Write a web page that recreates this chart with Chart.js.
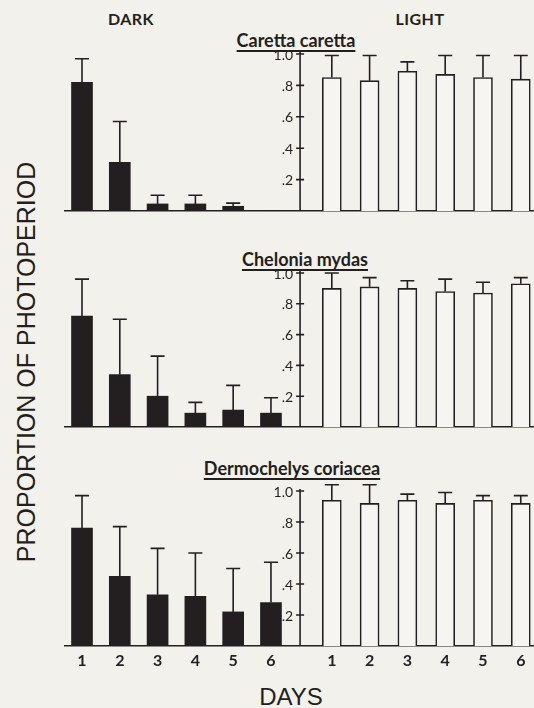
<!DOCTYPE html>
<html>
<head>
<meta charset="utf-8">
<script src="https://cdn.jsdelivr.net/npm/chart.js@4/dist/chart.umd.min.js"></script>
<style>
  html, body { margin: 0; padding: 0; }
  body { width: 534px; height: 708px; background: #f3f1ec; position: relative; overflow: hidden; font-family: Lato, "DejaVu Sans", sans-serif; color: #231f20; }
  .panel { position: absolute; left: 0; width: 534px; }
  .txt { position: absolute; white-space: nowrap; transform: translate(-50%, -50%); }
  .head { font-weight: bold; font-size: 16px; letter-spacing: 0.5px; }
  .species { font-weight: bold; font-size: 18px; text-decoration: underline; text-decoration-thickness: 2px; text-underline-offset: 3px; }
  .axis { font-family: "Liberation Sans", Arial, sans-serif; font-size: 24px; }
</style>
</head>
<body>
<div class="txt head" style="left:131px; top:18px;">DARK</div>
<div class="txt head" style="left:420px; top:18px;">LIGHT</div>
<div class="txt species" style="left:296px; top:40px;">Caretta caretta</div>
<div class="txt species" style="left:305px; top:259px;">Chelonia mydas</div>
<div class="txt species" style="left:292px; top:468px;">Dermochelys coriacea</div>
<div class="txt axis" style="left:26px; top:362px; font-size:25px; transform: translate(-50%, -50%) rotate(-90deg);">PROPORTION OF PHOTOPERIOD</div>
<div class="txt axis" style="left:291px; top:697px;">DAYS</div>

<div class="panel" style="top:24px; height:191px;"><canvas id="c1"></canvas></div>
<div class="panel" style="top:243px; height:188px;"><canvas id="c2"></canvas></div>
<div class="panel" style="top:461px; height:215px;"><canvas id="c3"></canvas></div>

<script>
const days = [1, 2, 3, 4, 5, 6];
const yTicks = [0, 0.2, 0.4, 0.6, 0.8, 1.0];
const yTickLabels = ['', '.2', '.4', '.6', '.8', '1.0'];

// Caretta caretta
const carettaDark = [0.82, 0.31, 0.045, 0.045, 0.03, 0];
const carettaDarkSd = [0.15, 0.26, 0.055, 0.055, 0.02, 0];
const carettaLight = [0.85, 0.83, 0.89, 0.87, 0.85, 0.84];
const carettaLightSd = [0.14, 0.16, 0.06, 0.12, 0.14, 0.15];

// Chelonia mydas
const cheloniaDark = [0.72, 0.34, 0.20, 0.09, 0.11, 0.09];
const cheloniaDarkSd = [0.24, 0.36, 0.26, 0.07, 0.16, 0.10];
const cheloniaLight = [0.90, 0.91, 0.90, 0.88, 0.87, 0.93];
const cheloniaLightSd = [0.10, 0.06, 0.05, 0.08, 0.07, 0.04];

// Dermochelys coriacea
const dermoDark = [0.76, 0.45, 0.33, 0.32, 0.22, 0.28];
const dermoDarkSd = [0.21, 0.32, 0.30, 0.28, 0.28, 0.26];
const dermoLight = [0.94, 0.92, 0.94, 0.92, 0.94, 0.92];
const dermoLightSd = [0.10, 0.12, 0.04, 0.07, 0.03, 0.05];

const INK = '#231f20';
const LIGHT_SHIFT = 6.61;   // light days sit right of the y axis
const AXIS_AT = 6.77;       // where the y axis crosses the x axis

// error bars (mean + sd), plus the middle y axis: line, crossing ticks, labels
const errorBars = {
  id: 'errorBars',
  afterDatasetsDraw(chart) {
    const ctx = chart.ctx, y = chart.scales.y, x = chart.scales.x;
    ctx.save();
    ctx.strokeStyle = INK;
    ctx.lineWidth = 1.6;
    chart.data.datasets.forEach((ds, d) => {
      chart.getDatasetMeta(d).data.forEach((bar, i) => {
        const sd = ds.sd[i];
        if (!sd) return;
        const top = y.getPixelForValue(ds.data[i].y + sd);
        ctx.beginPath();
        ctx.moveTo(bar.x, bar.y);
        ctx.lineTo(bar.x, top);
        ctx.moveTo(bar.x - 7, top);
        ctx.lineTo(bar.x + 7, top);
        ctx.stroke();
      });
    });
    const ax = x.getPixelForValue(AXIS_AT);
    ctx.beginPath();
    ctx.moveTo(ax, y.getPixelForValue(0));
    ctx.lineTo(ax, y.getPixelForValue(1) - 2);
    yTicks.slice(1).forEach(v => {
      const py = y.getPixelForValue(v);
      ctx.moveTo(ax - 4, py);
      ctx.lineTo(ax + 4, py);
    });
    ctx.stroke();
    ctx.fillStyle = INK;
    ctx.font = '14px Lato';
    ctx.textAlign = 'right';
    ctx.textBaseline = 'middle';
    yTicks.forEach((v, i) => ctx.fillText(yTickLabels[i], ax - 7, y.getPixelForValue(v) + 1));
    ctx.restore();
  }
};

function makePanel(id, dark, darkSd, light, lightSd, showDays) {
  const xPos = days.map(d => d).concat(days.map(d => d + LIGHT_SHIFT));
  return new Chart(document.getElementById(id), {
    type: 'bar',
    data: {
      datasets: [{
        label: 'Dark',
        data: dark.map((v, i) => ({ x: days[i], y: v })),
        sd: darkSd,
        backgroundColor: INK,
        borderWidth: 0,
        barThickness: 21,
        grouped: false
      }, {
        label: 'Light',
        data: light.map((v, i) => ({ x: days[i] + LIGHT_SHIFT, y: v })),
        sd: lightSd,
        backgroundColor: '#f7f5f1',
        borderColor: INK,
        borderWidth: 1.6,
        barThickness: 19,
        grouped: false
      }]
    },
    options: {
      responsive: true,
      maintainAspectRatio: false,
      animation: false,
      layout: { padding: { left: 65, right: 0, top: 30, bottom: 4 } },
      plugins: { legend: { display: false }, tooltip: { enabled: false } },
      scales: {
        x: {
          type: 'linear',
          offset: false,
          min: 0.55,
          max: 12.96,
          grid: { display: false, drawTicks: false },
          border: { display: true, color: INK, width: 1.6 },
          afterBuildTicks: s => { s.ticks = xPos.map(v => ({ value: v })); },
          afterFit: s => { s.height = showDays ? 26 : 0; },
          ticks: {
            display: showDays,
            autoSkip: false,
            maxRotation: 0,
            padding: 5,
            color: INK,
            font: { family: 'Lato', size: 16, weight: 'bold' },
            callback: v => String(Math.round(v > AXIS_AT ? v - LIGHT_SHIFT : v))
          }
        },
        y: {
          position: { x: AXIS_AT },
          min: 0,
          max: 1,
          grid: { display: false },
          border: { display: false },
          ticks: { display: false }
        }
      }
    },
    plugins: [errorBars]
  });
}

makePanel('c1', carettaDark, carettaDarkSd, carettaLight, carettaLightSd, false);
makePanel('c2', cheloniaDark, cheloniaDarkSd, cheloniaLight, cheloniaLightSd, false);
makePanel('c3', dermoDark, dermoDarkSd, dermoLight, dermoLightSd, true);
</script>
</body>
</html>
